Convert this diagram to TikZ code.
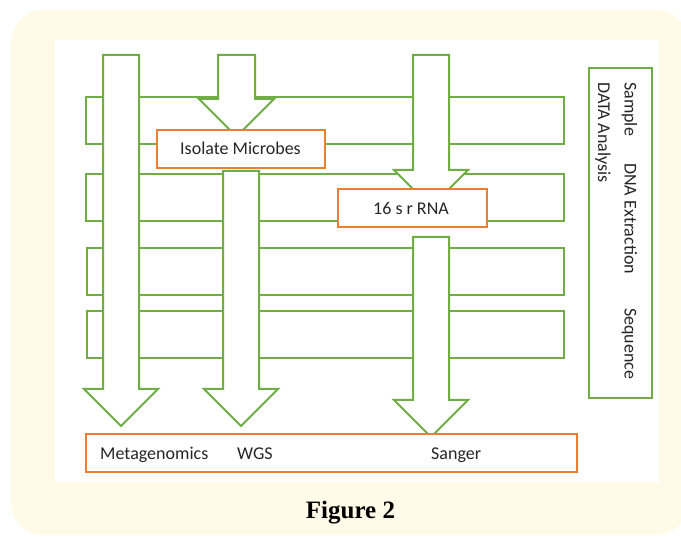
\documentclass[tikz,border=0pt]{standalone}
\usepackage{fontspec}
\setmainfont{Carlito}
\newfontfamily\capfont{Liberation Serif}
\definecolor{cream}{RGB}{255,251,232}
\definecolor{ogreen}{RGB}{112,173,71}
\definecolor{oorange}{RGB}{237,125,49}
\definecolor{txt}{RGB}{38,38,38}
\tikzset{
  bar/.style={draw=ogreen, line width=2pt, fill=white},
  barrow/.style={draw=ogreen, line width=2pt, fill=white, line join=miter},
  obox/.style={draw=oorange, line width=2pt, fill=white, inner sep=0pt},
  gbox/.style={draw=ogreen, line width=2pt, fill=white},
  lbl/.style={font=\fontsize{18}{21}\selectfont, text=txt, inner sep=0pt},
  vlbl/.style={lbl, rotate=-90, anchor=base west},
}
\begin{document}
\begin{tikzpicture}[x=1pt, y=-1pt]
\useasboundingbox (0,0) rectangle (681,537);
% backgrounds
\fill[cream, rounded corners=32pt] (11,10) rectangle (688,535);
\fill[white] (55,40) rectangle (659,482);
% horizontal bars
\draw[bar] (86,97) rectangle (564,144);
\draw[bar] (86,174) rectangle (564,221);
\draw[bar] (87,248) rectangle (564,295);
\draw[bar] (87,311) rectangle (564,358);
% block arrows
\draw[barrow] (103,55) -- (139,55) -- (139,389) -- (158,389) -- (121,426) -- (84,389) -- (103,389) -- cycle;
\draw[barrow] (218,55) -- (255,55) -- (255,99) -- (274,99) -- (236.5,136.5) -- (199,99) -- (218,99) -- cycle;
\draw[barrow] (223,171) -- (259,171) -- (259,389) -- (278,389) -- (241,426) -- (204,389) -- (223,389) -- cycle;
\draw[barrow] (413,55) -- (449,55) -- (449,170) -- (468,170) -- (431,207) -- (394,170) -- (413,170) -- cycle;
\draw[barrow] (413,237) -- (449,237) -- (449,400) -- (468,400) -- (431,437) -- (394,400) -- (413,400) -- cycle;
% orange boxes
\node[obox, minimum width=168pt, minimum height=38pt] (iso) at (241,149) {};
\node[lbl, anchor=base west] (isot) at (180,155) {Isolate Microbes};
\node[obox, minimum width=149pt, minimum height=38pt] (rna) at (412.5,208) {};
\node[lbl, anchor=base west] (rnat) at (373,215) {16 s r RNA};
\node[obox, minimum width=491pt, minimum height=38pt] (out) at (331.5,453) {};
\node[lbl, anchor=base west] (meta) at (100,460) {Metagenomics};
\node[lbl, anchor=base west] (wgs) at (237,460) {WGS};
\node[lbl, anchor=base west] (sang) at (431,460) {Sanger};
% right legend box
\node[gbox, minimum width=63pt, minimum height=330pt, inner sep=0pt] (leg) at (620.5,233) {};
\node[vlbl] (samp) at (624.5,82) {Sample};
\node[vlbl] (dna) at (624.5,163) {DNA Extraction};
\node[vlbl] (seq) at (624.5,308) {Sequence};
\node[vlbl] (data) at (598,82) {DATA Analysis};
% caption
\node[anchor=base, inner sep=0pt, font=\capfont\bfseries\fontsize{25}{30}\selectfont] (cap) at (350.5,519) {Figure 2};
\end{tikzpicture}
\end{document}
